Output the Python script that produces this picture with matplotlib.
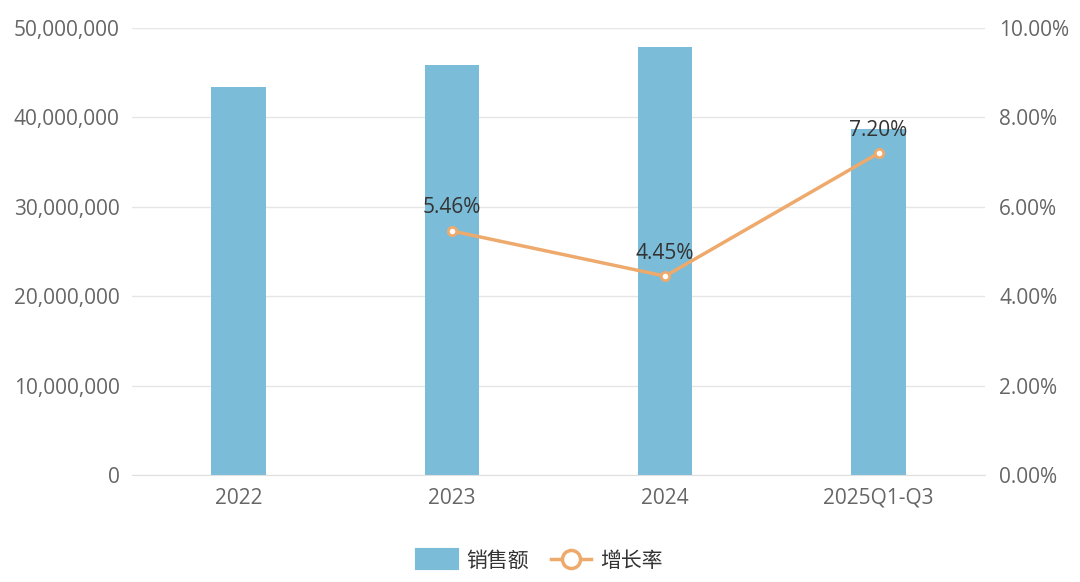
import matplotlib.pyplot as plt
from matplotlib.lines import Line2D
from matplotlib.patches import Patch
from matplotlib.ticker import FuncFormatter, MultipleLocator

plt.rcParams['font.family'] = ['Open Sans', 'Noto Sans CJK SC', 'DejaVu Sans']

# data
categories = ['2022', '2023', '2024', '2025Q1-Q3']
sales = [43450000, 45900000, 47900000, 38700000]
growth_x = ['2023', '2024', '2025Q1-Q3']
growth = [5.46, 4.45, 7.20]

bar_color = '#7bbcd9'
line_color = '#eeaa6c'
tick_color = '#666666'

fig = plt.figure(figsize=(10.8, 5.82), dpi=100)
ax = fig.add_axes([0.1222, 0.1838, 0.790, 0.768])
ax2 = ax.twinx()

x = range(len(categories))
ax.bar(x, sales, width=0.255, color=bar_color, zorder=2)
ax.set_xlim(-0.5, len(categories) - 0.5)
ax.set_ylim(0, 50000000)
ax.yaxis.set_major_locator(MultipleLocator(10000000))
ax.yaxis.set_major_formatter(FuncFormatter(lambda v, p: f'{int(v):,}'))
ax.set_xticks(list(x))
ax.set_xticklabels(categories)
ax.grid(axis='y', color='#e6e6e6', linewidth=1, zorder=0)
ax.set_axisbelow(True)

gx = [categories.index(c) for c in growth_x]
ax2.plot(gx, growth, color=line_color, linewidth=2.5, marker='o', markersize=6,
         markerfacecolor='white', markeredgecolor=line_color, markeredgewidth=2, zorder=3)
for xi, g in zip(gx, growth):
    ax2.annotate(f'{g:.2f}%', (xi, g), xytext=(0, 9), textcoords='offset points',
                 ha='center', va='bottom', fontsize=15, color='#333333')
ax2.set_ylim(0, 10)
ax2.yaxis.set_major_locator(MultipleLocator(2))
ax2.yaxis.set_major_formatter(FuncFormatter(lambda v, p: f'{v:.2f}%'))

for a in (ax, ax2):
    for s in a.spines.values():
        s.set_visible(False)
    a.tick_params(length=0, labelsize=15, labelcolor=tick_color)
ax.spines['bottom'].set_visible(True)
ax.spines['bottom'].set_color('#e0e0e0')
ax.tick_params(axis='y', pad=9)
ax.tick_params(axis='x', pad=9)
ax2.tick_params(axis='y', pad=10)

handles = [Patch(facecolor=bar_color, edgecolor=bar_color, linewidth=3,
                 joinstyle='round', label='销售额'),
           Line2D([0], [0], color=line_color, linewidth=2.5, marker='o', markersize=13,
                  markerfacecolor='white', markeredgecolor=line_color, markeredgewidth=2.5,
                  label='增长率')]
fig.legend(handles=handles, loc='center', bbox_to_anchor=(0.5, 0.036), ncol=2,
           frameon=False, fontsize=15, handlelength=1.9, handleheight=0.95,
           columnspacing=1.1, handletextpad=0.45, labelcolor='#333333')

fig.savefig('out.png', dpi=100)
